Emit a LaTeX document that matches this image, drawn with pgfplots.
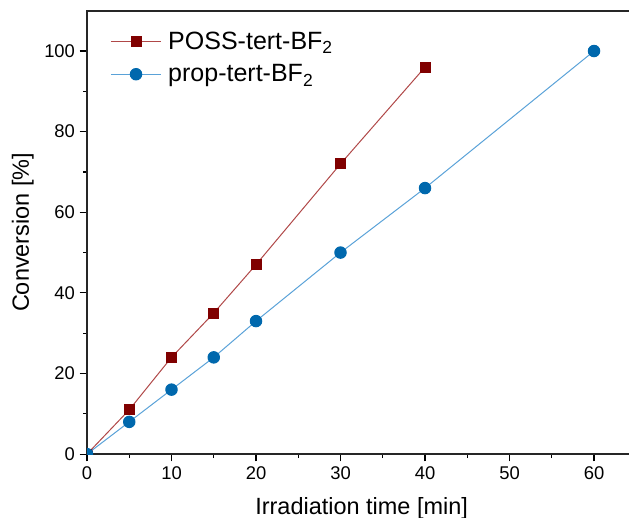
\documentclass[border=0pt]{standalone}
\usepackage{fontspec}
\setmainfont{Liberation Sans}
\usepackage{pgfplots}
\pgfplotsset{compat=1.18}

\definecolor{possred}{HTML}{800000}
\definecolor{posslin}{HTML}{B04848}
\definecolor{propblue}{HTML}{0068AD}
\definecolor{proplin}{HTML}{5AA2D8}

\begin{document}
\begin{tikzpicture}[x=0.75pt,y=0.75pt]
\begin{axis}[
  scale only axis,
  width=411.9pt, height=332.5pt,
  xmin=0, xmax=65, ymin=0, ymax=110,
  xtick={0,10,...,60}, ytick={0,20,...,100},
  minor x tick num=1, minor y tick num=1,
  tick pos=left, tick align=outside,
  major tick length=5.5pt, minor tick length=3pt,
  every tick/.style={black, line width=0.9pt},
  axis line style={line width=1.2pt, black!85},
  /pgf/number format/assume math mode=true,
  tick label style={font=\fontsize{13.8}{16}\selectfont},
  label style={font=\fontsize{17.6}{20}\selectfont},
  xlabel={Irradiation time [min]},
  ylabel={Conversion [\%]},
  xlabel style={yshift=-7pt},
  ylabel style={yshift=1pt},
  clip marker paths=true,
  legend style={draw=none, fill=none, at={(0.035,0.965)}, anchor=north west,
    font=\fontsize{18.75}{22}\selectfont, row sep=6pt,
    nodes={inner xsep=5pt}},
  legend cell align=left,
  legend image code/.code={\draw[mark repeat=2,mark phase=2]
    plot coordinates {(0cm,0cm)(0.66cm,0cm)(1.32cm,0cm)};},
]
\coordinate (bl) at (axis cs:-10.296,-15.63);
\coordinate (tr) at (axis cs:64.14,112.66);
\addplot[posslin, line width=0.75pt, mark=square*,
  mark options={possred, fill=possred, solid}, mark size=3.75pt] coordinates {
  (0,0)(5,11)(10,24)(15,35)(20,47)(30,72)(40,96)};
\addlegendentry{POSS-tert-BF\textsubscript{2}}
\addplot[proplin, line width=0.75pt, mark=*,
  mark options={propblue, fill=propblue, solid}, mark size=4.3pt] coordinates {
  (0,0)(5,8)(10,16)(15,24)(20,33)(30,50)(40,66)(60,100)};
\addlegendentry{prop-tert-BF\textsubscript{2}}
\end{axis}
\pgfresetboundingbox
\path[use as bounding box] (bl) rectangle (tr);
\end{tikzpicture}
\end{document}
